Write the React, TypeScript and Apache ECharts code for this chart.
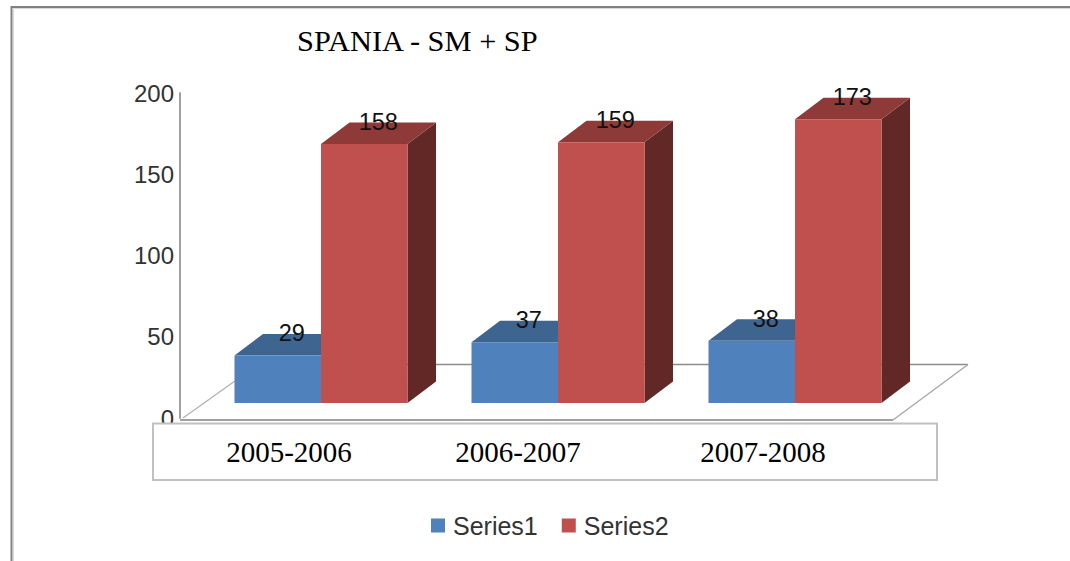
import React, { useEffect, useRef } from "react";
import * as echarts from "echarts";

const titleText = "SPANIA - SM + SP";
const categories = ["2005-2006", "2006-2007", "2007-2008"];
const series1Values = [29, 37, 38];
const series2Values = [158, 159, 173];
const seriesNames = ["Series1", "Series2"];
const yTicks = [0, 200];

const palette = [
  { front: "#4F81BD", top: "#3E6490", side: "#2F4B6C" },
  { front: "#C0504D", top: "#8E3A38", side: "#622826" },
];
const DX = 28.5;
const DY = 21.5;
const labelShift = [64, 80, 64];

const barRenderer = (seriesIdx: number) => (params: any, api: any) => {
  const cat = api.value(0);
  const val = api.value(1);
  const base = api.coord([cat, 0]);
  const top = api.coord([cat, val]);
  const w = api.size([1, 0])[0] * 0.365;
  const x0 = base[0] + (seriesIdx === 0 ? -w : 0);
  const x1 = x0 + w;
  const c = palette[seriesIdx];
  const poly = (points: number[][], fill: string) => ({
    type: "polygon",
    shape: { points },
    style: { fill, stroke: null },
  });
  return {
    type: "group",
    children: [
      poly(
        [[x1, top[1]], [x1 + DX, top[1] - DY], [x1 + DX, base[1] - DY], [x1, base[1]]],
        c.side
      ),
      poly(
        [[x0, top[1]], [x0 + DX, top[1] - DY], [x1 + DX, top[1] - DY], [x1, top[1]]],
        c.top
      ),
      poly([[x0, top[1]], [x1, top[1]], [x1, base[1]], [x0, base[1]]], c.front),
    ],
  };
};

const makeSeries = (idx: number, values: number[]) => ({
  name: seriesNames[idx],
  type: "custom",
  xAxisIndex: 1,
  yAxisIndex: 1,
  z: 4 + idx,
  color: palette[idx].front,
  itemStyle: { color: palette[idx].front },
  renderItem: barRenderer(idx),
  encode: { x: 0, y: 1 },
  data: values.map((v, i) => [i, v]),
  clip: false,
});

const makeLabels = (idx: number, values: number[]) => ({
  type: "custom",
  xAxisIndex: 1,
  yAxisIndex: 1,
  z: 8,
  silent: true,
  tooltip: { show: false },
  legendHoverLink: false,
  renderItem: (params: any, api: any) => {
    const p = api.coord([api.value(0), api.value(1)]);
    const w = api.size([1, 0])[0] * 0.365;
    const cx = p[0] + (idx === 0 ? -w / 2 : w / 2) + 14;
    return {
      type: "text",
      x: cx,
      y: p[1] - 22,
      style: {
        text: String(api.value(1)),
        fill: "#111",
        font: '23.5px "Liberation Sans"',
        align: "center",
        verticalAlign: "middle",
      },
    };
  },
  data: values.map((v, i) => [i, v]),
});

export default function App() {
  const ref = useRef<HTMLDivElement>(null);
  useEffect(() => {
    const chart = echarts.init(ref.current!, null, { renderer: "svg" });
    chart.setOption({
      animation: false,
      backgroundColor: "#ffffff",
      title: {
        text: titleText,
        left: 297,
        top: 25,
        padding: 0,
        textStyle: {
          fontFamily: "Liberation Serif",
          fontWeight: "normal",
          fontSize: 30.4,
          lineHeight: 32,
          color: "#000",
        },
      },
      legend: {
        data: seriesNames,
        left: 431,
        top: 513,
        padding: 0,
        itemWidth: 14,
        itemHeight: 14,
        itemGap: 24,
        icon: "rect",
        textStyle: {
          fontFamily: "Liberation Sans",
          fontSize: 25,
          color: "#333",
          padding: [0, 0, 0, 3],
        },
      },
      grid: [
        { left: 180, top: 93, width: 700, height: 325, containLabel: false },
        { left: 202.5, top: 75, width: 711, height: 328 },
      ],
      xAxis: [
        { type: "value", gridIndex: 0, show: false, min: 0, max: 1 },
        {
          type: "category",
          gridIndex: 1,
          data: categories,
          z: 3,
          axisLine: { show: false },
          axisTick: { show: false },
          axisLabel: {
            margin: 34,
            interval: 0,
            formatter: (v: string) => `{c${categories.indexOf(v)}|${v}}`,
            rich: Object.fromEntries(
              labelShift.map((s, i) => [
                `c${i}`,
                {
                  fontFamily: "Liberation Serif",
                  fontSize: 29,
                  color: "#000",
                  padding: [0, s, 0, 0],
                },
              ])
            ),
          },
        },
      ],
      yAxis: [
        {
          type: "value",
          gridIndex: 0,
          min: yTicks[0],
          max: yTicks[1],
          interval: 50,
          z: 1,
          splitLine: { show: false },
          axisTick: { show: false },
          axisLine: { show: true, lineStyle: { color: "#a0a0a0", width: 2 } },
          axisLabel: {
            margin: 6,
            fontFamily: "Liberation Sans",
            fontSize: 24,
            color: "#333",
          },
        },
        {
          type: "value",
          gridIndex: 1,
          min: yTicks[0],
          max: yTicks[1],
          show: false,
          splitLine: { show: false },
        },
      ],
      graphic: [
        {
          type: "polyline",
          z: 0,
          silent: true,
          shape: { points: [[11.5, 561], [11.5, 7], [1070, 7]] },
          style: { fill: "none", stroke: "#808080", lineWidth: 2 },
        },
        {
          type: "polyline",
          z: 0,
          silent: true,
          shape: { points: [[13.5, 561], [13.5, 8.5], [1070, 8.5]] },
          style: { fill: "none", stroke: "#d8d8d8", lineWidth: 1 },
        },
        {
          type: "polyline",
          z: 0,
          silent: true,
          shape: { points: [[183, 418], [258, 364.5]] },
          style: { fill: "none", stroke: "#b0b0b0", lineWidth: 1.2 },
        },
        {
          type: "line",
          z: 0,
          silent: true,
          shape: { x1: 258, y1: 364.5, x2: 968, y2: 364.5 },
          style: { stroke: "#8c8c8c", lineWidth: 1.4 },
        },
        {
          type: "polyline",
          z: 0,
          silent: true,
          shape: { points: [[968, 364.5], [893, 420]] },
          style: { fill: "none", stroke: "#a8a8a8", lineWidth: 1.4 },
        },
        {
          type: "line",
          z: 0,
          silent: true,
          shape: { x1: 180, y1: 420, x2: 893, y2: 420 },
          style: { stroke: "#a0a0a0", lineWidth: 2 },
        },
        {
          type: "rect",
          z: 2,
          silent: true,
          shape: { x: 153, y: 423.5, width: 784, height: 56.5 },
          style: { fill: "#ffffff", stroke: "#c0c0c0", lineWidth: 2 },
        },
      ],
      series: [
        makeSeries(0, series1Values),
        makeSeries(1, series2Values),
        makeLabels(0, series1Values),
        makeLabels(1, series2Values),
      ],
    });
    return () => chart.dispose();
  }, []);
  return (
    <div
      ref={ref}
      style={{ position: "absolute", left: 0, top: 0, width: 1070, height: 561 }}
    />
  );
}
